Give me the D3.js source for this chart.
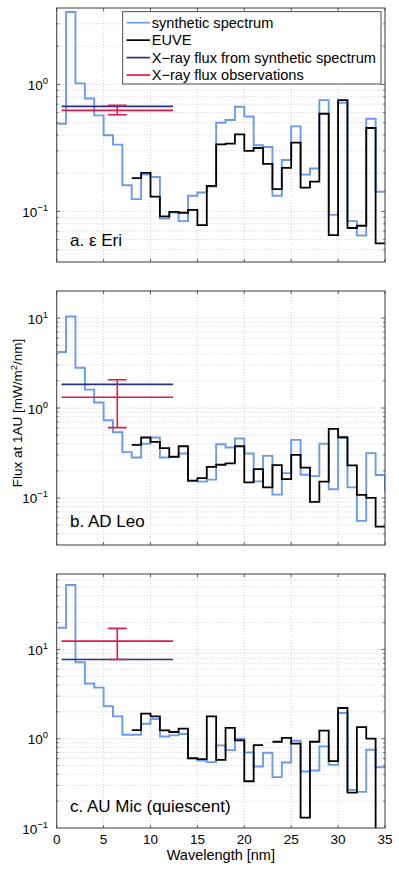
<!DOCTYPE html>
<html><head><meta charset="utf-8">
<script src="https://cdn.jsdelivr.net/npm/d3@7"></script>
<style>
body{margin:0;background:#fff}
svg{display:block}
text{font-family:"Liberation Sans",Arial,Helvetica,sans-serif;fill:#000}
</style></head>
<body><svg id="c" width="399" height="869"></svg>
<script>
// ---- data ----
const binEdges = [0.1,1,2,3,4,5,6,7,8,9,10,11,12,13,14,15,16,17,18,19,20,21,22,23,24,25,26,27,28,29,30,31,32,33,34,35,36];
const xTicks = [0,5,10,15,20,25,30,35];
const xrayBand = [0.517, 12.4];
const xrayCenter = 6.46;
const capHalf = 1.0;

const blueA = [0.49,3.72,1.02,0.776,0.571,0.398,0.336,0.161,0.125,0.195,0.187,0.088,0.098,0.084,0.133,0.141,0.157,0.50,0.525,0.668,0.56,0.332,0.322,0.133,0.254,0.468,0.195,0.218,0.753,0.094,0.718,0.084,0.0646,0.537,0.143];
const blackA = [null,null,null,null,null,null,null,null,0.183,0.201,0.131,0.0914,0.0993,0.0977,0.103,0.078,0.159,0.338,0.342,0.405,0.300,0.316,0.237,0.150,0.220,0.348,0.154,0.172,0.588,0.0652,0.753,0.0741,0.0772,0.454,0.056];
const xrayA = {synth:0.672, obs:0.625, lo:0.578, hi:0.684};
const limA = [0.04, 4];
const yTicksA = [0.1, 1];

const blueB = [4.2,10.4,2.80,1.60,1.15,0.73,0.538,0.323,0.282,0.40,0.47,0.282,0.289,0.312,0.154,0.152,0.16,0.396,0.364,0.458,0.312,0.153,0.294,0.109,0.189,0.442,0.181,0.175,0.40,0.125,0.466,0.131,0.0556,0.315,0.18,0.12];
const blackB = [null,null,null,null,null,null,null,null,0.389,0.47,0.42,0.358,0.287,0.376,0.156,0.166,0.222,0.234,0.242,0.376,0.149,0.209,0.131,0.232,0.162,0.302,0.217,0.0903,0.152,0.586,0.473,0.230,0.108,0.10,0.048];
const xrayB = {synth:1.83, obs:1.32, lo:0.605, hi:2.06};
const limB = [0.03, 20];
const yTicksB = [0.1, 1, 10];

const blueC = [17.5,52.8,7.2,4.15,3.74,2.31,1.78,1.11,1.11,1.47,1.66,1.06,1.09,1.13,0.596,0.571,0.547,0.842,0.746,1.0,0.702,0.489,0.696,0.371,0.542,0.95,0.43,0.44,0.82,0.51,1.94,0.267,0.254,0.752,0.48];
const blackC = [null,null,null,null,null,null,null,null,1.25,1.91,1.78,1.24,1.19,1.30,0.607,0.59,1.78,0.58,1.32,0.958,0.334,0.849,null,0.925,1.02,0.879,0.131,0.925,1.23,0.561,2.21,0.249,1.35,1.0,0.05];
const xrayC = {synth:7.72, obs:12.4, lo:7.72, hi:17.2};
const limC = [0.1, 70];
const yTicksC = [0.1, 1, 10];

const panelLabels = ["a. \u03B5 Eri", "b. AD Leo", "c. AU Mic (quiescent)"];
const legendItems = ["synthetic spectrum","EUVE","X\u2212ray flux from synthetic spectrum","X\u2212ray flux observations"];

// ---- style/layout ----
const C_BLUE = "#6a9be8", C_BLACK = "#000", C_NAVY = "#2e2e85", C_RED = "#e3194b";
const left = 56.7, right = 385;
const layouts = [
  {top:8, bottom:262, blue:blueA, black:blackA, xr:xrayA, lim:limA, ticks:yTicksA, label:panelLabels[0], labelY:246, legend:true},
  {top:291, bottom:545, blue:blueB, black:blackB, xr:xrayB, lim:limB, ticks:yTicksB, label:panelLabels[1], labelY:527, legend:false},
  {top:574, bottom:828, blue:blueC, black:blackC, xr:xrayC, lim:limC, ticks:yTicksC, label:panelLabels[2], labelY:812, legend:false, xlabels:true}
];

const svg = d3.select("#c");
const x = d3.scaleLinear().domain([0,35]).range([left,right]);

function stairs(vals){
  const pts = [];
  vals.forEach((v,i)=>{
    if(v==null){ pts.push(null); return; }
    pts.push([binEdges[i], v]); pts.push([binEdges[i+1], v]);
  });
  return pts;
}

layouts.forEach((p,pi)=>{
  const y = d3.scaleLog().domain(p.lim).range([p.bottom,p.top]);
  const g = svg.append("g");
  const cid = "clip"+pi;
  svg.append("clipPath").attr("id",cid).append("rect")
    .attr("x",left).attr("y",p.top).attr("width",right-left).attr("height",p.bottom-p.top);

  // grid
  const gg = g.append("g").attr("stroke","#c4c4c4").attr("stroke-width",0.8).attr("stroke-dasharray","1,2");
  xTicks.filter(t=>t>0&&t<35).forEach(t=>{
    gg.append("line").attr("x1",x(t)).attr("x2",x(t)).attr("y1",p.top).attr("y2",p.bottom);
  });
  const yt = y.ticks().filter(v=>v>p.lim[0]*1.0001 && v<p.lim[1]*0.9999);
  yt.forEach(v=>{
    gg.append("line").attr("x1",left).attr("x2",right).attr("y1",y(v)).attr("y2",y(v));
  });

  const line = d3.line().defined(d=>d!=null).x(d=>x(d[0])).y(d=>y(d[1]));
  const data = g.append("g").attr("clip-path",`url(#${cid})`).attr("fill","none");
  data.append("path").attr("d",line(stairs(p.blue))).attr("stroke",C_BLUE).attr("stroke-width",1.9);
  data.append("path").attr("d",line(stairs(p.black))).attr("stroke",C_BLACK).attr("stroke-width",1.8);
  // x-ray
  data.append("line").attr("x1",x(xrayBand[0])).attr("x2",x(xrayBand[1]))
    .attr("y1",y(p.xr.synth)).attr("y2",y(p.xr.synth)).attr("stroke",C_NAVY).attr("stroke-width",1.6);
  const r = data.append("g").attr("stroke",C_RED).attr("stroke-width",1.6);
  r.append("line").attr("x1",x(xrayBand[0])).attr("x2",x(xrayBand[1]))
    .attr("y1",y(p.xr.obs)).attr("y2",y(p.xr.obs));
  r.append("line").attr("x1",x(xrayCenter)).attr("x2",x(xrayCenter)).attr("y1",y(p.xr.lo)).attr("y2",y(p.xr.hi));
  [p.xr.lo,p.xr.hi].forEach(v=>r.append("line").attr("x1",x(xrayCenter-capHalf)).attr("x2",x(xrayCenter+capHalf)).attr("y1",y(v)).attr("y2",y(v)));

  // box
  g.append("rect").attr("x",left).attr("y",p.top).attr("width",right-left).attr("height",p.bottom-p.top)
    .attr("fill","none").attr("stroke","#3a3a3a").attr("stroke-width",1);
  // ticks
  const tk = g.append("g").attr("stroke","#3a3a3a").attr("stroke-width",0.8);
  xTicks.forEach(t=>{
    tk.append("line").attr("x1",x(t)).attr("x2",x(t)).attr("y1",p.bottom).attr("y2",p.bottom-3);
    tk.append("line").attr("x1",x(t)).attr("x2",x(t)).attr("y1",p.top).attr("y2",p.top+3);
  });
  yt.forEach(v=>{
    const major = Math.abs(Math.log10(v)-Math.round(Math.log10(v)))<1e-6;
    const L = major?3.5:1.8;
    tk.append("line").attr("x1",left).attr("x2",left+L).attr("y1",y(v)).attr("y2",y(v));
    tk.append("line").attr("x1",right).attr("x2",right-L).attr("y1",y(v)).attr("y2",y(v));
  });
  // y tick labels
  p.ticks.forEach(v=>{
    const e = Math.round(Math.log10(v));
    const t = g.append("text").attr("x",48).attr("y",y(v)+5.5).attr("text-anchor","end").attr("font-size",13.5);
    t.append("tspan").text("10");
    t.append("tspan").attr("dy",-6).attr("font-size",9.5).text(String(e).replace("-","\u2212"));
  });
  // panel label
  g.append("text").attr("x",70).attr("y",p.labelY).attr("font-size",17).text(p.label);

  if(p.xlabels){
    xTicks.forEach(t=>{
      g.append("text").attr("x",x(t)).attr("y",p.bottom+16).attr("text-anchor","middle").attr("font-size",13.5).text(t);
    });
    g.append("text").attr("x",(left+right)/2).attr("y",860).attr("text-anchor","middle").attr("font-size",14.5).text("Wavelength [nm]");
  }
  if(p.legend){
    const lg = g.append("g");
    lg.append("rect").attr("x",122.7).attr("y",11.7).attr("width",258.3).attr("height",72.3)
      .attr("fill","#fff").attr("stroke","#3a3a3a").attr("stroke-width",0.9);
    const cols = [C_BLUE,C_BLACK,C_NAVY,C_RED];
    legendItems.forEach((s,i)=>{
      const yy = 22.7 + i*17.45;
      lg.append("line").attr("x1",126.5).attr("x2",150).attr("y1",yy).attr("y2",yy).attr("stroke",cols[i]).attr("stroke-width",1.7);
      lg.append("text").attr("x",151.7).attr("y",yy+5).attr("font-size",14.6).text(s);
    });
  }
});

// y axis label
const yl = svg.append("text").attr("transform","translate(21.5,413) rotate(-90)").attr("text-anchor","middle").attr("font-size",13.5);
yl.append("tspan").text("Flux at 1AU [mW/m");
yl.append("tspan").attr("dy",-5).attr("font-size",9.5).text("2");
yl.append("tspan").attr("dy",5).text("/nm]");
</script></body></html>
